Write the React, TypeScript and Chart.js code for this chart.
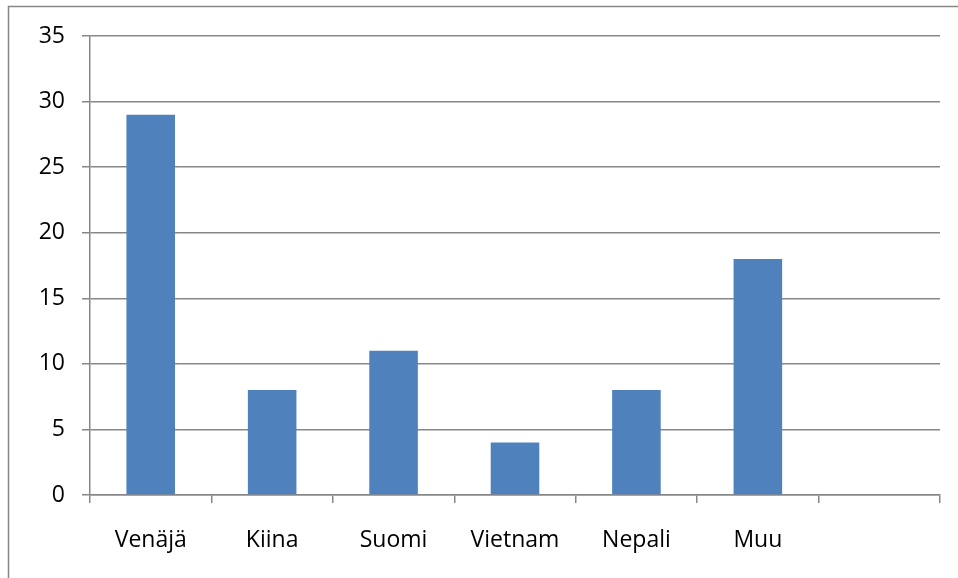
import React, { useEffect, useRef } from "react";
import { Chart, registerables } from "chart.js";

Chart.register(...registerables);

const categories = ["Venäjä", "Kiina", "Suomi", "Vietnam", "Nepali", "Muu", ""];
const counts = [29, 8, 11, 4, 8, 18, null];
const yMin = 0;
const yMax = 35;
const yStep = 5;

const GRID = "#878787";
const FONT = { family: "'Open Sans', 'Liberation Sans', sans-serif", size: 23 };

// Thin gray frame around the whole chart (top and left edges visible)
const framePlugin = {
  id: "frame",
  afterDraw(chart: Chart) {
    const { ctx, width, height } = chart;
    ctx.save();
    ctx.strokeStyle = GRID;
    ctx.lineWidth = 1.5;
    ctx.beginPath();
    ctx.moveTo(8.5, height + 2);
    ctx.lineTo(8.5, 6.5);
    ctx.lineTo(width + 2, 6.5);
    ctx.stroke();
    ctx.restore();
  },
};

export default function App() {
  const canvasRef = useRef<HTMLCanvasElement | null>(null);

  useEffect(() => {
    document.body.style.margin = "0";
    const canvas = canvasRef.current;
    if (!canvas) return;
    const chart = new Chart(canvas, {
      type: "bar",
      data: {
        labels: categories,
        datasets: [
          {
            data: counts,
            backgroundColor: "#4F81BD",
            borderWidth: 0,
            categoryPercentage: 1,
            barPercentage: 0.4,
          },
        ],
      },
      plugins: [framePlugin],
      options: {
        responsive: false,
        animation: false,
        events: [],
        layout: { padding: { top: 36, right: 18, left: 0, bottom: 0 } },
        plugins: { legend: { display: false }, tooltip: { enabled: false } },
        scales: {
          x: {
            offset: true,
            grid: {
              offset: true,
              drawOnChartArea: false,
              drawTicks: true,
              tickLength: 8,
              color: GRID,
              lineWidth: 1.5,
            },
            border: { display: true, color: GRID, width: 1.5 },
            ticks: { color: "#000", font: FONT, padding: 24, maxRotation: 0 },
            afterFit(scale: any) {
              scale.height = 83;
            },
          },
          y: {
            min: yMin,
            max: yMax,
            grid: {
              color: GRID,
              lineWidth: 1.5,
              drawTicks: true,
              tickLength: 8,
            },
            border: { display: true, color: GRID, width: 1.5 },
            ticks: { stepSize: yStep, color: "#000", font: FONT, padding: 17 },
            afterFit(scale: any) {
              scale.width = 90;
            },
          },
        },
      },
    });
    return () => chart.destroy();
  }, []);

  return <canvas ref={canvasRef} width={958} height={578} style={{ display: "block" }} />;
}
